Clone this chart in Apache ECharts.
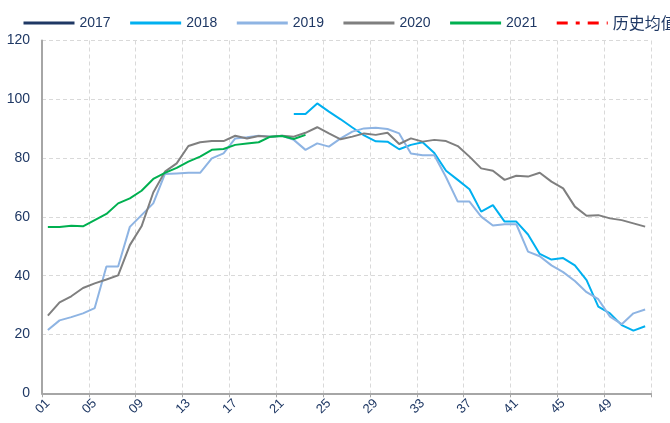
<!DOCTYPE html>
<html>
<head>
<meta charset="utf-8">
<script src="https://cdn.jsdelivr.net/npm/echarts@6/dist/echarts.min.js"></script>
<style>html,body{margin:0;padding:0;background:#fff}#c{width:670px;height:423px}</style>
</head>
<body>
<div id="c"></div>
<script>
var weeks = [];
for (var i = 1; i <= 52; i++) weeks.push((i < 10 ? '0' : '') + i);

var seriesNames = ['2017', '2018', '2019', '2020', '2021', '历史均值'];

var v2017 = [];
var vAvg = [];

var v2018 = [null, null, null, null, null, null, null, null, null, null,
  null, null, null, null, null, null, null, null, null, null,
  null, 95.0, 95.0, 98.6, 95.8, 93.2, 90.4, 87.7, 85.7, 85.6,
  83.0, 84.5, 85.4, 81.7, 75.7, 72.6, 69.4, 61.8, 64.0, 58.4,
  58.4, 54.0, 47.4, 45.5, 46.0, 43.5, 38.5, 29.5, 27.2, 23.2,
  21.3, 22.8];

var v2019 = [21.5, 24.8, 25.9, 27.2, 29.0, 43.1, 43.1, 56.6, 60.6, 64.6,
  74.6, 74.8, 75.0, 75.0, 79.9, 81.6, 86.7, 87.1, 87.6, 87.3,
  87.6, 86.2, 82.8, 85.0, 83.9, 86.7, 89.0, 90.1, 90.3, 89.9,
  88.4, 81.6, 81.0, 81.0, 73.5, 65.2, 65.2, 60.1, 57.1, 57.5,
  57.5, 48.2, 46.6, 43.5, 41.2, 38.2, 34.4, 32.0, 26.1, 23.5,
  27.2, 28.5];

var v2020 = [26.4, 30.9, 33.0, 35.8, 37.4, 38.7, 40.1, 50.4, 56.8, 68.3,
  75.4, 78.2, 84.1, 85.4, 85.8, 85.8, 87.6, 86.7, 87.5, 87.3,
  87.6, 87.3, 88.6, 90.5, 88.4, 86.4, 87.3, 88.4, 87.9, 88.6,
  84.8, 86.7, 85.6, 86.2, 85.8, 84.1, 80.5, 76.5, 75.7, 72.6,
  74.0, 73.7, 75.0, 72.0, 69.7, 63.5, 60.4, 60.6, 59.5, 58.9,
  57.8, 56.7];

var v2021 = [56.6, 56.6, 57.0, 56.8, 58.9, 61.0, 64.6, 66.3, 68.9, 72.9,
  75.0, 76.7, 78.8, 80.5, 82.8, 83.1, 84.5, 85.0, 85.4, 87.3,
  87.5, 86.5, 87.9];

var yTicks = [0, 20, 40, 60, 80, 100, 120];

var navy = '#1F3864';
var chart = echarts.init(document.getElementById('c'), null, {renderer: 'canvas'});

function lineSeries(name, data, color, extra) {
  var s = {
    name: name, type: 'line', data: data, symbol: 'none', showSymbol: false,
    connectNulls: false, smooth: false,
    lineStyle: {color: color, width: 2},
    itemStyle: {color: color},
    emphasis: {disabled: true}
  };
  if (extra) for (var k in extra) s.lineStyle[k] = extra[k];
  return s;
}

chart.setOption({
  animation: false,
  backgroundColor: '#fff',
  legend: {
    left: 17, top: 10, width: 700,
    itemWidth: 51, itemHeight: 14, itemGap: 18,
    itemStyle: {opacity: 0},
    lineStyle: {width: 3},
    data: seriesNames,
    textStyle: {color: navy, fontSize: 14, fontFamily: 'Liberation Sans, Arial, sans-serif',
      rich: {c: {fontSize: 16, color: navy, fontFamily: 'Noto Sans CJK SC'}}},
    formatter: function (n) { return n === '历史均值' ? '{c|' + n + '}' : n; }
  },
  grid: {left: 42, right: 19, top: 40.5, bottom: 29.7},
  xAxis: {
    type: 'category', data: weeks, boundaryGap: true,
    axisLine: {show: true, lineStyle: {color: '#a6a6a6', width: 2}},
    axisTick: {show: true, interval: 3, length: 4, lineStyle: {color: '#a6a6a6'}},
    axisLabel: {interval: 3, rotate: 45, color: navy, fontSize: 13, margin: 8,
      fontFamily: 'Liberation Sans, Arial, sans-serif'},
    splitLine: {show: true, interval: 3, lineStyle: {color: '#d9d9d9', type: [4, 3], width: 1}}
  },
  yAxis: {
    type: 'value', min: yTicks[0], max: yTicks[yTicks.length - 1], interval: 20,
    axisLine: {show: true, lineStyle: {color: '#a6a6a6', width: 2}},
    axisTick: {show: false},
    axisLabel: {color: navy, fontSize: 14, margin: 12,
      fontFamily: 'Liberation Sans, Arial, sans-serif'},
    splitLine: {show: true, lineStyle: {color: '#d9d9d9', type: [4, 3], width: 1}}
  },
  series: [
    lineSeries('2017', v2017, '#1F3864'),
    lineSeries('2018', v2018, '#00B0F0'),
    lineSeries('2019', v2019, '#8EB4E3'),
    lineSeries('2020', v2020, '#7F7F7F'),
    lineSeries('2021', v2021, '#00B050'),
    lineSeries('历史均值', vAvg, '#FF0000', {type: [11, 8, 4, 8], width: 3})
  ]
});
</script>
</body>
</html>
